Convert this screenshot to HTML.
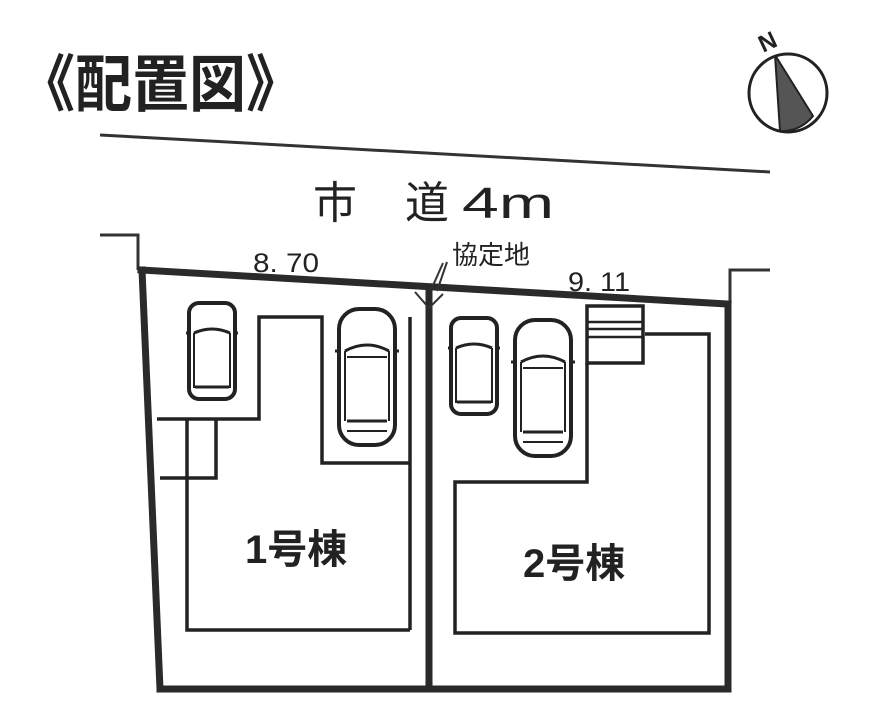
<!DOCTYPE html>
<html><head><meta charset="utf-8"><style>
html,body{margin:0;padding:0;background:#fff;}
svg{display:block;}
text{font-family:"Liberation Sans","Noto Sans CJK JP",sans-serif;fill:#222;}
</style></head><body>
<svg width="896" height="711" viewBox="0 0 896 711" xmlns="http://www.w3.org/2000/svg">
<defs>
<g id="car">
<rect x="0" y="0" width="46" height="96" rx="10" fill="none" stroke="#222" stroke-width="4"/>
<path d="M5 30 Q23 22 41 30" fill="none" stroke="#222" stroke-width="3"/>
<line x1="5" y1="30" x2="5" y2="85" stroke="#222" stroke-width="2"/>
<line x1="41" y1="30" x2="41" y2="85" stroke="#222" stroke-width="2"/>
<line x1="6" y1="84" x2="40" y2="84" stroke="#222" stroke-width="3"/>
<line x1="-3" y1="30" x2="2" y2="30" stroke="#222" stroke-width="3"/>
<line x1="44" y1="30" x2="49" y2="30" stroke="#222" stroke-width="3"/>
</g>
<g id="car2">
<rect x="0" y="0" width="56" height="136" rx="20" fill="none" stroke="#222" stroke-width="4"/>
<path d="M6 42 Q28 30 50 42" fill="none" stroke="#222" stroke-width="3"/>
<line x1="6" y1="42" x2="6" y2="112" stroke="#222" stroke-width="2"/>
<line x1="50" y1="42" x2="50" y2="112" stroke="#222" stroke-width="2"/>
<line x1="8" y1="48" x2="48" y2="48" stroke="#222" stroke-width="2"/>
<line x1="8" y1="112" x2="48" y2="112" stroke="#222" stroke-width="3"/>
<line x1="8" y1="122" x2="48" y2="122" stroke="#222" stroke-width="2"/>
<line x1="-4" y1="42" x2="2" y2="42" stroke="#222" stroke-width="3"/>
<line x1="54" y1="42" x2="60" y2="42" stroke="#222" stroke-width="3"/>
</g>
</defs>

<text x="18" y="106" font-size="62" font-weight="bold" textLength="285" lengthAdjust="spacingAndGlyphs">《配置図》</text>

<!-- compass -->
<circle cx="788" cy="93" r="39" fill="none" stroke="#222" stroke-width="3"/>
<path d="M775 55 L780 131 A39 39 0 0 0 813 116 Z" fill="#555" stroke="#222" stroke-width="2"/>
<text x="758" y="50" font-size="24" font-weight="bold" transform="rotate(-25 767 40)">N</text>

<!-- road -->
<line x1="100" y1="135" x2="770" y2="172" stroke="#333" stroke-width="3"/>
<text x="313" y="218" font-size="44">市</text>
<text x="405" y="218" font-size="44">道</text>
<text x="462" y="218" font-size="44" textLength="92" lengthAdjust="spacingAndGlyphs">4m</text>

<!-- stubs -->
<polyline points="100,235 138,235 138,270" fill="none" stroke="#333" stroke-width="3"/>
<polyline points="770,270 730,270 730,303" fill="none" stroke="#333" stroke-width="3"/>

<!-- boundaries -->
<g stroke="#2a2a2a" stroke-width="7" fill="none" stroke-linecap="square">
<line x1="141" y1="270" x2="728" y2="304"/>
<line x1="142" y1="270" x2="160" y2="689"/>
<line x1="160" y1="689" x2="728" y2="689"/>
<line x1="728" y1="304" x2="728" y2="689"/>
<line x1="429" y1="290" x2="429" y2="689"/>
</g>
<!-- 協定地 marks -->
<path d="M415 292 L429 308 L443 294" fill="none" stroke="#333" stroke-width="2"/>
<line x1="431" y1="290" x2="443" y2="263" stroke="#333" stroke-width="2"/>
<line x1="437" y1="291" x2="447" y2="262" stroke="#333" stroke-width="2"/>

<text x="253" y="272" font-size="27" textLength="66" lengthAdjust="spacingAndGlyphs">8. 70</text>
<text x="568" y="291" font-size="27" textLength="62" lengthAdjust="spacingAndGlyphs">9. 11</text>
<text x="452" y="264" font-size="26">協定地</text>

<!-- house 1 -->
<g stroke="#222" stroke-width="3.5" fill="none">
<polyline points="157,419 259,419 259,317 322,317 322,463 410,463"/>
<line x1="410" y1="317" x2="410" y2="630"/>
<polyline points="410,630 187,630 187,420"/>
<polyline points="160,478 216,478 216,420"/>
<!-- house 2 -->
<polyline points="587,363 587,482 455,482 455,633 709,633 709,334 645,334"/>
<rect x="587" y="306" width="56" height="57"/>
<line x1="587" y1="322" x2="643" y2="322" stroke-width="2.5"/>
<line x1="587" y1="329" x2="643" y2="329" stroke-width="2.5"/>
<line x1="587" y1="337" x2="643" y2="337" stroke-width="2.5"/>
</g>

<use href="#car" x="189" y="303"/>
<use href="#car2" x="339" y="309"/>
<use href="#car" x="451" y="318"/>
<use href="#car2" x="515" y="320"/>

<text x="245" y="563" font-size="40" font-weight="bold">1号棟</text>
<text x="523" y="577" font-size="40" font-weight="bold">2号棟</text>
</svg>
</body></html>
